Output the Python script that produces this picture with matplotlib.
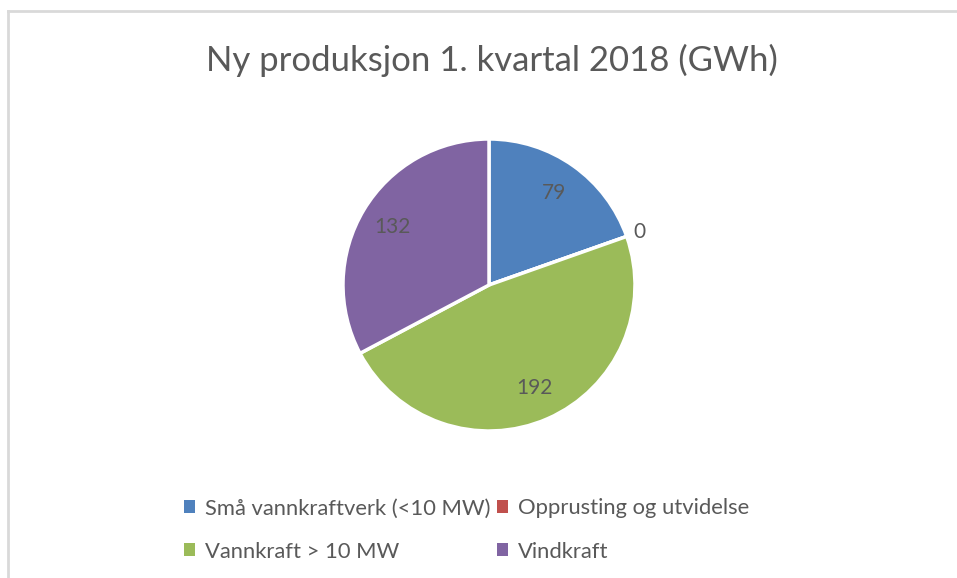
import matplotlib.pyplot as plt
from matplotlib.patches import Patch
from matplotlib.lines import Line2D
import numpy as np

# data
categories = ['Små vannkraftverk (<10 MW)', 'Opprusting og utvidelse',
              'Vannkraft > 10 MW', 'Vindkraft']
values = [79, 0, 192, 132]
colors = ['#4F81BD', '#C0504D', '#9BBB59', '#8064A2']
title = 'Ny produksjon 1. kvartal 2018 (GWh)'

plt.rcParams['font.family'] = ['Lato', 'DejaVu Sans']

W, H = 957, 578
fig = plt.figure(figsize=(W / 100, H / 100), dpi=100)

# chart-area frame (top and left edges visible)
fig.add_artist(Line2D([8 / W, 8 / W], [0, 1 - 11 / H], color='#d9d9d9', lw=2))
fig.add_artist(Line2D([8 / W, 1], [1 - 11 / H, 1 - 11 / H], color='#d9d9d9', lw=2))

cx, cy, r = 489, 285, 146
ax = fig.add_axes([(cx - r) / W, (H - cy - r) / H, 2 * r / W, 2 * r / H])
wedges, texts = ax.pie(values, colors=colors, startangle=90, counterclock=False,
                       labels=[str(v) for v in values], labeldistance=0.77,
                       wedgeprops=dict(edgecolor='white', linewidth=2.5),
                       textprops=dict(color='#595959', fontsize=15))
for t, v in zip(texts, values):
    t.set_ha('center')
    t.set_va('center')
    if v == 0:
        x, y = t.get_position()
        t.set_position((x * 1.42, y * 1.42))
ax.set_xlim(-1, 1)
ax.set_ylim(-1, 1)
ax.set_aspect('equal')
ax.axis('off')

fig.text(492 / W, 1 - 60 / H, title, ha='center', va='center',
         fontsize=25, color='#595959')

# row-major legend order (matplotlib fills columns first)
order = [0, 2, 1, 3]
handles = [Patch(facecolor=colors[i], edgecolor='none') for i in order]
labels = [categories[i] for i in order]
fig.legend(handles, labels, ncol=2, loc='center',
           bbox_to_anchor=(467 / W, 1 - 530 / H), frameon=False,
           fontsize=15.8, labelcolor='#595959',
           handlelength=0.5, handleheight=0.5, handletextpad=0.45,
           columnspacing=0.3, labelspacing=1.05)

fig.savefig('out.png', dpi=100, facecolor='white')
